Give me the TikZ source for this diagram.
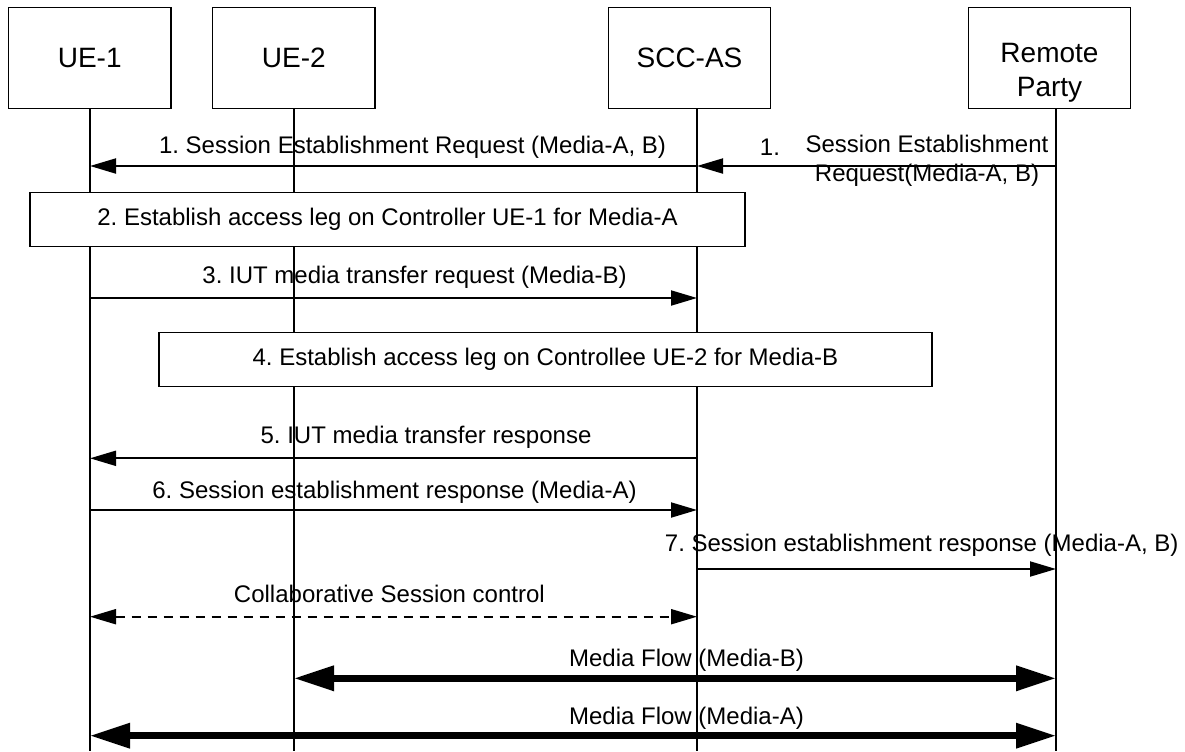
\documentclass[tikz,border=0pt]{standalone}
\usepackage{fontspec}
\setmainfont{Liberation Sans}
\usetikzlibrary{arrows.meta}
\frenchspacing

\begin{document}
\begin{tikzpicture}[x=0.5pt,y=-0.5pt,
    entity/.style={draw,line width=0.7pt,minimum width=81.2pt,minimum height=50.5pt,font=\fontsize{14}{17}\selectfont},
    stepbox/.style={draw,fill=white,line width=0.7pt,minimum height=27pt,font=\fontsize{12}{14.5}\selectfont},
    lifeline/.style={line width=0.7pt},
    msg/.style={line width=1pt,arrows={-Triangle[length=13pt,width=7.5pt]}},
    ctrl/.style={line width=1pt,dash pattern=on 4.5pt off 3.5pt,arrows={Triangle[length=13pt,width=7.5pt]-Triangle[length=13pt,width=7.5pt]}},
    flow/.style={line width=3.3pt,arrows={Triangle[length=20pt,width=12pt]-Triangle[length=20pt,width=12pt]}},
    lbl/.style={inner sep=0pt,font=\fontsize{12}{14.5}\selectfont}]
    \useasboundingbox (0,0) rectangle (1185,751);

%   entities
    \node[entity] (ue1) at (89.7,57.8) {UE-1};
    \node[entity] (ue2) at (293.8,57.8) {UE-2};
    \node[entity] (scc) at (689.5,57.8) {SCC-AS};
    \node[entity] (rp) at (1049.5,57.8) {};
    \node[font=\fontsize{14}{17}\selectfont,align=center,inner sep=0pt] (rptext) at (1049.5,73) {Remote\\Party};

%   lifelines
    \coordinate (l1) at (90,751);
    \coordinate (l2) at (294,751);
    \coordinate (l3) at (697,751);
    \coordinate (l4) at (1056,751);
    \draw[lifeline] (l1 |- ue1.south) -- (l1);
    \draw[lifeline] (l2 |- ue2.south) -- (l2);
    \draw[lifeline] (l3 |- scc.south) -- (l3);
    \draw[lifeline] (l4 |- rp.south) -- (l4);

%   1. session establishment request
    \draw[msg] (l4 |- 0,166) -- (l3 |- 0,166);
    \node[lbl] (m1rnum) at (770,147) {1.};
    \node[lbl,align=center] (m1r) at (927,161) {Session Establishment\\Request(Media-A, B)};
    \draw[msg] (l3 |- 0,166) -- (l1 |- 0,166);
    \node[lbl] (m1) at (412.5,147) {1. Session Establishment Request (Media-A, B)};

%   2. access leg UE-1
    \node[stepbox,minimum width=357.5pt] (leg1) at (387.5,219.7) {2. Establish access leg on Controller UE-1 for Media-A};

%   3. transfer request
    \draw[msg] (l1 |- 0,298) -- (l3 |- 0,298);
    \node[lbl] (m3) at (414.5,277) {3. IUT media transfer request (Media-B)};

%   4. access leg UE-2
    \node[stepbox,minimum width=386.6pt] (leg2) at (545.4,359.2) {4. Establish access leg on Controllee UE-2 for Media-B};

%   5. - 7. responses
    \draw[msg] (l3 |- 0,458.3) -- (l1 |- 0,458.3);
    \node[lbl] (m5) at (426,437) {5. IUT media transfer response};
    \draw[msg] (l1 |- 0,510) -- (l3 |- 0,510);
    \node[lbl] (m6) at (394.5,492) {6. Session establishment response (Media-A)};
    \draw[msg] (l3 |- 0,569) -- (l4 |- 0,569);
    \node[lbl] (m7) at (921.7,545) {7. Session establishment response (Media-A, B)};

%   control and media
    \draw[ctrl] (l1 |- 0,616.7) -- (l3 |- 0,616.7);
    \node[lbl] (ctl) at (389.4,593.5) {Collaborative Session control};
    \draw[flow] (l2 |- 0,678.3) -- (l4 |- 0,678.3);
    \node[lbl] (fb) at (686.5,660) {Media Flow (Media-B)};
    \draw[flow] (l1 |- 0,735.7) -- (l4 |- 0,735.7);
    \node[lbl] (fa) at (686.5,718.3) {Media Flow (Media-A)};
\end{tikzpicture}
\end{document}
